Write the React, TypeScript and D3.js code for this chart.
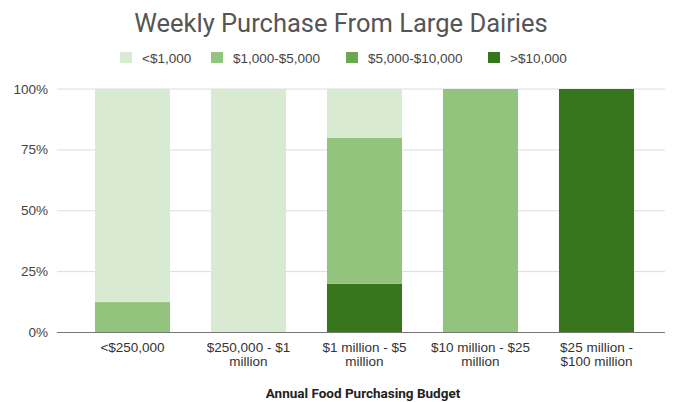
import React from "react";
import * as d3 from "d3";

const categories = ["<$250,000", "$250,000 - $1 million", "$1 million - $5 million", "$10 million - $25 million", "$25 million - $100 million"];
const categoryLines = [["<$250,000"], ["$250,000 - $1", "million"], ["$1 million - $5", "million"], ["$10 million - $25", "million"], ["$25 million -", "$100 million"]];
const seriesNames = ["<$1,000", "$1,000-$5,000", "$5,000-$10,000", ">$10,000"];
const seriesColors = ["#d9ead3", "#93c47d", "#6aa84f", "#38761d"];
const under1000 = [87.5, 100, 20, 0, 0];
const from1000to5000 = [12.5, 0, 60, 100, 0];
const from5000to10000 = [0, 0, 0, 0, 0];
const over10000 = [0, 0, 20, 0, 100];
const yTicks = [0, 25, 50, 75, 100];

export default function App() {
  const W = 681, H = 402;
  const x = d3.scaleBand<string>().domain(categories).range([74.5, 654.5]).paddingInner(0.353).paddingOuter(0.1765);
  const y = d3.scaleLinear().domain([0, 100]).range([332.5, 89]);
  const rows = categories.map((c, i) => ({
    cat: c,
    [seriesNames[0]]: under1000[i],
    [seriesNames[1]]: from1000to5000[i],
    [seriesNames[2]]: from5000to10000[i],
    [seriesNames[3]]: over10000[i],
  }));
  const order = [...seriesNames].reverse();
  const stacked = d3.stack<any>().keys(order)(rows);
  const roboto = "Roboto, 'Noto Sans', Arial, sans-serif";
  const arial = "'Liberation Sans', Arial, Helvetica, sans-serif";
  const legendX = [120, 211, 346, 488];

  return (
    <svg width={W} height={H} style={{ position: "absolute", left: 0, top: 0, background: "#fff" }} fontFamily={arial}>
      <text x={341} y={32} textAnchor="middle" fontSize={25.5} fill="#555" fontFamily={roboto}>Weekly Purchase From Large Dairies</text>
      {seriesNames.map((s, i) => (
        <g key={s}>
          <rect x={legendX[i]} y={52} width={12} height={11} fill={seriesColors[i]} />
          <text x={legendX[i] + 22} y={63} fontSize={13.5} fill="#444">{s}</text>
        </g>
      ))}
      {yTicks.map((t) => (
        <g key={t}>
          <line x1={57} x2={665} y1={y(t)} y2={y(t)} stroke={t === 0 ? "#777" : "#dcdcdc"} strokeWidth={1} />
          <text x={48} y={y(t) + 4.5} textAnchor="end" fontSize={13.5} fill="#444">{t + "%"}</text>
        </g>
      ))}
      {stacked.map((layer) => {
        const color = seriesColors[seriesNames.indexOf(layer.key)];
        return layer.map((d, i) => (
          d[1] - d[0] > 0 ? (
            <rect key={layer.key + i} x={x(categories[i])} width={x.bandwidth()} y={y(d[1])} height={y(d[0]) - y(d[1])} fill={color} />
          ) : null
        ));
      })}
      <line x1={57} x2={665} y1={y(0)} y2={y(0)} stroke="#777" strokeWidth={1} />
      {categories.map((c, i) => (
        <text key={c} x={(x(c) as number) + x.bandwidth() / 2} y={352} textAnchor="middle" fontSize={13.5} fill="#333">
          {categoryLines[i].map((ln, j) => (
            <tspan key={j} x={(x(c) as number) + x.bandwidth() / 2} dy={j === 0 ? 0 : 14}>{ln}</tspan>
          ))}
        </text>
      ))}
      <text x={363} y={398} textAnchor="middle" fontSize={13.5} fontWeight="bold" fill="#222" fontFamily={roboto}>Annual Food Purchasing Budget</text>
    </svg>
  );
}
